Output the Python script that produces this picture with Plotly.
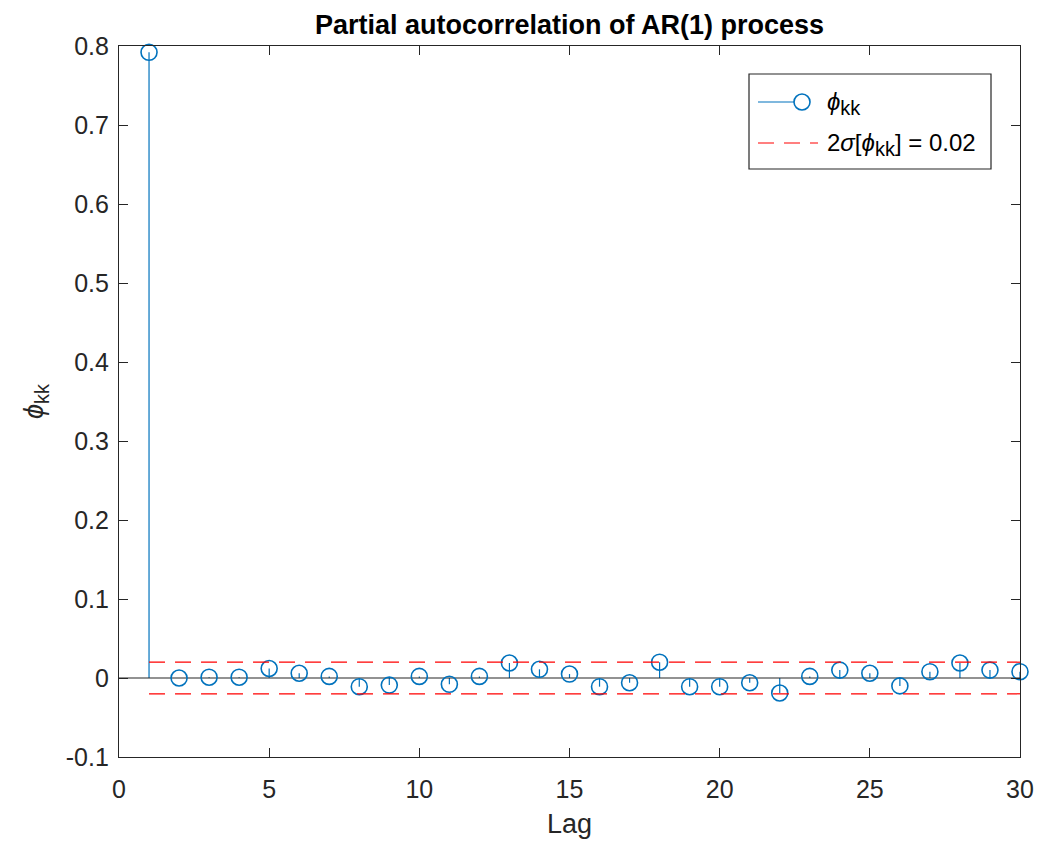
import plotly.graph_objects as go

lags = list(range(1, 31))
pacf = [0.792, 0.000, 0.001, 0.001, 0.012, 0.006, 0.002, -0.011, -0.009, 0.002,
        -0.008, 0.002, 0.019, 0.011, 0.005, -0.011, -0.006, 0.020, -0.011, -0.011,
        -0.006, -0.019, 0.002, 0.010, 0.006, -0.010, 0.008, 0.019, 0.010, 0.008]
sigma2 = 0.02
yticks = [-0.1, 0, 0.1, 0.2, 0.3, 0.4, 0.5, 0.6, 0.7, 0.8]
yticklabels = ["-0.1", "0", "0.1", "0.2", "0.3", "0.4", "0.5", "0.6", "0.7", "0.8"]
xticks = [0, 5, 10, 15, 20, 25, 30]
SUBKK = "<sub><span style='font-size:20px'>kk</span></sub>"
legend_labels = ["<i>ϕ</i>" + SUBKK, "2<i>σ</i>[<i>ϕ</i>" + SUBKK + "] = 0.02"]

BLUE = "#0072BD"
AX = "#262626"
FONT = "Liberation Sans, Arial, Helvetica, sans-serif"

W, H = 1040, 848
L, R, T, B = 119, 20, 46, 91
PW, PH = W - L - R, H - T - B


def px(x):
    return (x - L) / PW


def py(y):
    return (H - B - y) / PH


fig = go.Figure()

# stems
sx, sy = [], []
for k, v in zip(lags, pacf):
    sx += [k, k, None]
    sy += [0, v, None]
fig.add_trace(go.Scatter(x=sx, y=sy, mode="lines", line=dict(color=BLUE, width=1.2),
                         showlegend=False, hoverinfo="skip", cliponaxis=False))
# baseline
fig.add_trace(go.Scatter(x=[xticks[0], xticks[-1]], y=[0, 0], mode="lines",
                         line=dict(color=AX, width=1.2), showlegend=False, hoverinfo="skip"))
# markers
fig.add_trace(go.Scatter(x=lags, y=pacf, mode="markers",
                         marker=dict(symbol="circle-open", size=16, color=BLUE, line=dict(width=1.6)),
                         showlegend=False, cliponaxis=False))
# confidence lines
fig.add_trace(go.Scatter(x=[lags[0], lags[-1], None, lags[0], lags[-1]],
                         y=[sigma2, sigma2, None, -sigma2, -sigma2],
                         mode="lines", line=dict(color="#FF0000", width=1.2, dash="16px,10px"),
                         showlegend=False))

axis_common = dict(showline=True, linecolor=AX, linewidth=1.2, mirror="ticks",
                   ticks="inside", ticklen=9, tickcolor=AX, tickwidth=1.2,
                   showgrid=False, zeroline=False, automargin=False,
                   tickfont=dict(family=FONT, size=25, color=AX))

# custom legend (MATLAB style)
shapes = [
    dict(type="rect", xref="paper", yref="paper", x0=px(749), x1=px(991), y0=py(169), y1=py(74),
         line=dict(color=AX, width=1.2), fillcolor="white", layer="above"),
    dict(type="line", xref="paper", yref="paper", x0=px(758), x1=px(794), y0=py(102), y1=py(102),
         line=dict(color=BLUE, width=1.2), layer="above"),
    dict(type="circle", xref="paper", yref="paper", x0=px(794), x1=px(810), y0=py(110), y1=py(94),
         line=dict(color=BLUE, width=1.6), layer="above"),
    dict(type="line", xref="paper", yref="paper", x0=px(758), x1=px(818), y0=py(143), y1=py(143),
         line=dict(color="#FF0000", width=1.2, dash="16px,10px"), layer="above"),
]
annotations = [
    dict(text=legend_labels[0], xref="paper", yref="paper", x=px(825), y=py(104),
         xanchor="left", yanchor="middle", showarrow=False,
         font=dict(family=FONT, size=24, color="black")),
    dict(text=legend_labels[1], xref="paper", yref="paper", x=px(825), y=py(145),
         xanchor="left", yanchor="middle", showarrow=False,
         font=dict(family=FONT, size=24, color="black")),
]

fig.update_layout(
    width=W, height=H,
    margin=dict(l=L, r=R, t=T, b=B, autoexpand=False),
    paper_bgcolor="white", plot_bgcolor="white",
    title=dict(text="<b>Partial autocorrelation of AR(1) process</b>",
               x=(L + PW / 2) / W, xref="container", xanchor="center", y=1 - 25 / H, yanchor="middle",
               font=dict(family=FONT, size=27, color="black")),
    xaxis=dict(range=[0, 30], tickvals=xticks, ticklabelstandoff=10, **axis_common,
               title=dict(text="Lag", font=dict(family=FONT, size=27, color=AX), standoff=12)),
    yaxis=dict(range=[-0.1, 0.8], tickvals=yticks, ticktext=yticklabels, ticklabelstandoff=4,
               **axis_common,
               title=dict(text="<i>ϕ</i>" + SUBKK, font=dict(family=FONT, size=27, color=AX), standoff=14)),
    shapes=shapes,
    annotations=annotations,
    showlegend=False,
)

fig.write_html("out.html")
